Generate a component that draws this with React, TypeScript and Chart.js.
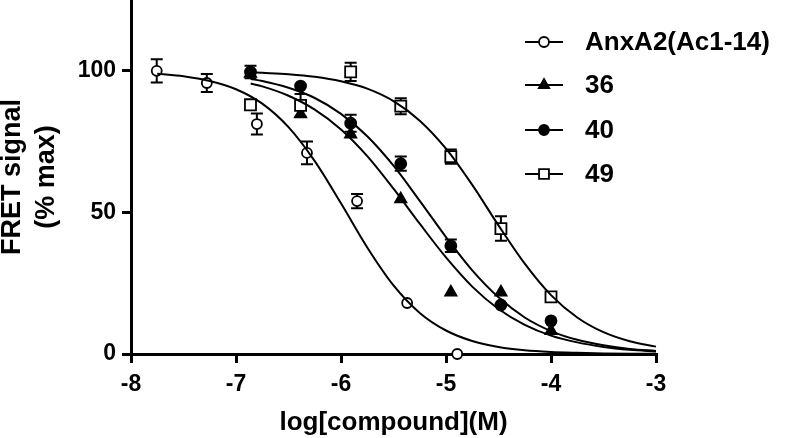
import React, { useEffect, useRef } from 'react';
import { Chart, registerables } from 'chart.js';

Chart.register(...registerables);

const FONT = '"Liberation Sans", Arial, Helvetica, sans-serif';

// ---- Data ----
const seriesNames = ['AnxA2(Ac1-14)', '36', '40', '49'];

const anxX = [-7.755, -7.278, -6.801, -6.324, -5.847, -5.37, -4.893];
const anxY = [100.0, 95.7, 81.2, 71.0, 54.0, 18.0, 0.0];
const anxErr = [4.1, 3.2, 3.7, 4.0, 2.5, 0, 0];

const cmpX = [-6.862, -6.385, -5.908, -5.431, -4.954, -4.477, -4.0];
const c36Y = [99.0, 84.7, 77.6, 54.7, 21.8, 21.8, 8.2];
const c36Err = [0, 0, 0, 0, 0, 0, 0];
const c40Y = [99.6, 94.6, 81.5, 67.2, 38.2, 17.3, 11.7];
const c40Err = [2.2, 0, 3.0, 2.5, 2.2, 0, 0];
const c49Y = [88.0, 87.8, 99.6, 87.5, 69.7, 44.3, 20.2];
const c49Err = [0, 4.0, 3.2, 2.8, 2.5, 4.3, 0];

// fitted curves
const anxFitX = [-7.75, -7.5, -7.25, -7, -6.75, -6.5, -6.25, -6, -5.75, -5.5, -5.25, -5, -4.75, -4.5, -4.25, -4, -3.75, -3.5, -3.25, -3];
const anxFitY = [99.0, 98.1, 96.4, 93.5, 88.4, 80.1, 68.1, 53.2, 37.6, 24.2, 14.5, 8.3, 4.6, 2.5, 1.3, 0.7, 0.4, 0.2, 0.1, 0.06];
const cmpFitX = [-6.86, -6.75, -6.5, -6.25, -6, -5.75, -5.5, -5.25, -5, -4.75, -4.5, -4.25, -4, -3.75, -3.5, -3.25, -3];
const c36FitY = [95.5, 94.5, 91.2, 86.3, 79.3, 69.9, 58.4, 46.0, 34.1, 23.8, 15.9, 10.3, 6.5, 4.1, 2.5, 1.5, 0.9];
const c40FitY = [97.1, 96.4, 94.0, 90.4, 84.8, 76.9, 66.5, 54.1, 41.3, 29.5, 20.0, 12.9, 8.1, 5.0, 3.1, 1.8, 1.1];
const c49FitY = [99.5, 99.3, 98.8, 97.9, 96.3, 93.7, 89.3, 82.4, 72.5, 59.7, 45.4, 31.9, 20.8, 12.9, 7.7, 4.5, 2.6];

const xTicks = [-8, -7, -6, -5, -4, -3];
const yTicks = [0, 50, 100];

const markerStyles = ['circle', 'triangle', 'circle', 'rect'];
const markerFills = ['#ffffff', '#000000', '#000000', '#ffffff'];
const markerRadius = [5, 6.5, 5.5, 7.8];

const zip = (xs: number[], ys: number[]) => xs.map((x, i) => ({ x, y: ys[i] }));

function drawMarker(ctx: CanvasRenderingContext2D, style: string, x: number, y: number, r: number, fill: string) {
  ctx.save();
  ctx.beginPath();
  if (style === 'circle') {
    ctx.arc(x, y, r, 0, Math.PI * 2);
  } else if (style === 'triangle') {
    const h = r * 1.5;
    const s = r * Math.sqrt(3) / 2;
    ctx.moveTo(x, y - r);
    ctx.lineTo(x + s, y - r + h);
    ctx.lineTo(x - s, y - r + h);
    ctx.closePath();
  } else {
    const s = r * Math.SQRT1_2;
    ctx.rect(x - s, y - s, 2 * s, 2 * s);
  }
  ctx.fillStyle = fill;
  ctx.fill();
  ctx.lineWidth = 1.8;
  ctx.strokeStyle = '#000';
  ctx.stroke();
  ctx.restore();
}

const errorBarPlugin = {
  id: 'errorBars',
  beforeDatasetsDraw(chart: any) {
    const ctx = chart.ctx;
    const xs = chart.scales.x;
    const ys = chart.scales.y;
    ctx.save();
    ctx.strokeStyle = '#000';
    ctx.lineWidth = 2;
    chart.data.datasets.forEach((ds: any) => {
      if (!ds.errors) return;
      ds.data.forEach((p: any, i: number) => {
        const e = ds.errors[i];
        if (!e) return;
        const px = xs.getPixelForValue(p.x);
        const top = ys.getPixelForValue(p.y + e);
        const bot = ys.getPixelForValue(p.y - e);
        ctx.beginPath();
        ctx.moveTo(px, top);
        ctx.lineTo(px, bot);
        ctx.moveTo(px - 6, top);
        ctx.lineTo(px + 6, top);
        ctx.moveTo(px - 6, bot);
        ctx.lineTo(px + 6, bot);
        ctx.stroke();
      });
    });
    ctx.restore();
  },
};

const legendPlugin = {
  id: 'customLegend',
  afterDraw(chart: any) {
    const ctx = chart.ctx;
    const rows = [42, 85, 130, 174];
    ctx.save();
    seriesNames.forEach((name, i) => {
      const y = rows[i];
      ctx.beginPath();
      ctx.moveTo(525, y);
      ctx.lineTo(563, y);
      ctx.lineWidth = 2;
      ctx.strokeStyle = '#000';
      ctx.stroke();
      drawMarker(ctx, markerStyles[i], 544, y, i === 3 ? 7 : i === 1 ? 6 : 5, markerFills[i]);
      ctx.fillStyle = '#000';
      ctx.font = `bold 26px ${FONT}`;
      ctx.textBaseline = 'middle';
      ctx.textAlign = 'left';
      ctx.fillText(name, 585, y + 1);
    });
    ctx.restore();
  },
};

export default function App() {
  const ref = useRef<HTMLCanvasElement | null>(null);

  useEffect(() => {
    if (!ref.current) return;
    const pointSets = [
      { data: zip(anxX, anxY), errors: anxErr },
      { data: zip(cmpX, c36Y), errors: c36Err },
      { data: zip(cmpX, c40Y), errors: c40Err },
      { data: zip(cmpX, c49Y), errors: c49Err },
    ];
    const fitSets = [
      zip(anxFitX, anxFitY),
      zip(cmpFitX, c36FitY),
      zip(cmpFitX, c40FitY),
      zip(cmpFitX, c49FitY),
    ];
    const datasets: any[] = [];
    fitSets.forEach((d, i) => {
      datasets.push({
        label: seriesNames[i] + ' fit',
        data: d,
        showLine: true,
        borderColor: '#000',
        borderWidth: 2,
        pointRadius: 0,
        cubicInterpolationMode: 'monotone',
        clip: false,
        order: 0,
      });
    });
    const drawOrder = [1, 3, 2, 1];
    pointSets.forEach((s, i) => {
      datasets.push({
        label: seriesNames[i],
        data: s.data,
        errors: s.errors,
        showLine: false,
        pointStyle: markerStyles[i],
        pointRadius: markerRadius[i],
        pointBackgroundColor: markerFills[i],
        pointBorderColor: '#000',
        pointBorderWidth: 1.8,
        clip: false,
        order: drawOrder[i],
      });
    });

    const chart = new Chart(ref.current, {
      type: 'scatter',
      data: { datasets },
      options: {
        animation: false,
        responsive: false,
        events: [],
        layout: { autoPadding: false, padding: { left: 0, right: 130, top: 0, bottom: 0 } },
        plugins: { legend: { display: false }, tooltip: { enabled: false } },
        scales: {
          x: {
            type: 'linear',
            min: -8,
            max: -3,
            afterBuildTicks: (s: any) => { s.ticks = xTicks.map((v) => ({ value: v })); },
            afterFit: (s: any) => { s.height = 84; s.paddingLeft = 0; s.paddingRight = 0; },
            ticks: {
              color: '#000',
              font: { family: FONT, size: 23, weight: 'bold' },
              padding: 8,
              maxRotation: 0,
              callback: (v: any) => String(v),
            },
            grid: { drawOnChartArea: false, drawTicks: true, tickLength: 9, lineWidth: 3, color: '#000' },
            border: { display: true, width: 3, color: '#000' },
            title: {
              display: true,
              text: 'log[compound](M)',
              color: '#000',
              font: { family: FONT, size: 26, weight: 'bold' },
              padding: { top: 0, bottom: 0 },
            },
          },
          y: {
            type: 'linear',
            min: 0,
            max: 125,
            afterBuildTicks: (s: any) => { s.ticks = yTicks.map((v) => ({ value: v })); },
            afterFit: (s: any) => { s.width = 131; s.paddingTop = 0; s.paddingBottom = 0; },
            ticks: {
              color: '#000',
              font: { family: FONT, size: 23, weight: 'bold' },
              padding: 6,
              callback: (v: any) => String(v),
            },
            grid: { drawOnChartArea: false, drawTicks: true, tickLength: 9, lineWidth: 3, color: '#000' },
            border: { display: true, width: 3, color: '#000' },
            title: {
              display: true,
              text: ['FRET signal', '(% max)'],
              color: '#000',
              font: { family: FONT, size: 27, weight: 'bold', lineHeight: 1.25 },
              padding: { top: -4, bottom: 0 },
            },
          },
        },
      },
      plugins: [errorBarPlugin, legendPlugin],
    } as any);
    return () => chart.destroy();
  }, []);

  return (
    <div style={{ position: 'fixed', left: 0, top: 0, width: 786, height: 438, background: '#fff' }}>
      <canvas ref={ref} width={786} height={438} style={{ display: 'block' }} />
    </div>
  );
}
